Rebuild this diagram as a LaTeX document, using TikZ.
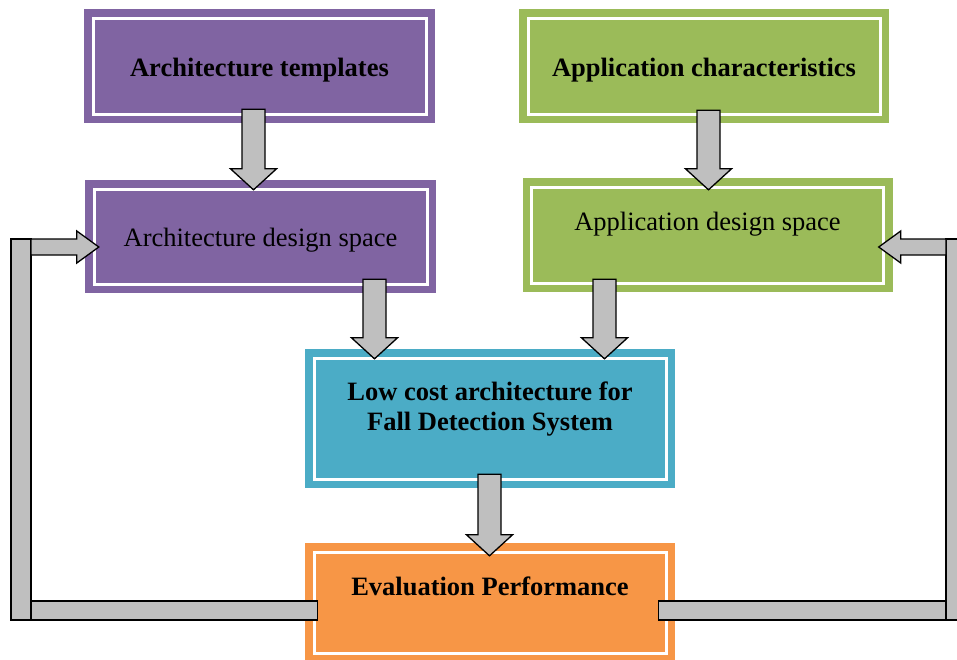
\documentclass[tikz,border=0pt]{standalone}
\usepackage{fontspec}
\setmainfont{Liberation Serif}
\usetikzlibrary{calc,positioning}

\definecolor{archpurple}{HTML}{8064A2}
\definecolor{appgreen}{HTML}{9BBB59}
\definecolor{costblue}{HTML}{4BACC6}
\definecolor{evalorange}{HTML}{F79646}
\definecolor{barfill}{HTML}{BFBFBF}

% block arrow pointing down: shaft top at #1, tip at #2
\newcommand{\downblock}[2]{%
  \draw[blockarrow] let \p1=#1, \p2=#2 in
    (\x2-11.5pt,\y1) -- (\x2+11.5pt,\y1) -- (\x2+11.5pt,\y2+21pt)
    -- (\x2+23pt,\y2+21pt) -- (\x2,\y2) -- (\x2-23pt,\y2+21pt)
    -- (\x2-11.5pt,\y2+21pt) -- cycle;}
% block arrow sideways: shaft start at #1, tip at #2, #3=1 right / -1 left
\newcommand{\sideblock}[3]{%
  \draw[blockarrow] let \p1=#1, \p2=#2, \n1={#3*22pt} in
    (\x1,\y2+8pt) -- (\x2-\n1,\y2+8pt) -- (\x2-\n1,\y2+16pt)
    -- (\x2,\y2) -- (\x2-\n1,\y2-16pt) -- (\x2-\n1,\y2-8pt)
    -- (\x1,\y2-8pt) -- cycle;}

\tikzset{
  box/.style={rectangle, fill=#1, inner sep=0pt, minimum width=351pt, minimum height=114pt,
    path picture={\draw[white, line width=3pt]
      ([xshift=9pt,yshift=-9pt]path picture bounding box.north west) rectangle
      ([xshift=-9pt,yshift=9pt]path picture bounding box.south east);}},
  wide/.style={minimum width=370pt},
  boxtext/.style={align=center, inner sep=0pt, font=\fontsize{26.5}{30}\selectfont},
  title/.style={boxtext, font=\fontsize{26.5}{30}\selectfont\bfseries},
  blockarrow/.style={draw=black, fill=barfill, line width=1.3pt, line join=miter}
}

\begin{document}
\begin{tikzpicture}[x=1pt, y=-1pt]
\useasboundingbox (0,0) rectangle (957,659);

% boxes
\node[box=archpurple] (tmpl) at (259.5,66) {};
\node[box=appgreen, wide] (chars) at (704,66) {};
\node[box=archpurple, minimum height=113pt] (archds) at (260.5,236.5) {};
\node[box=appgreen, wide] (appds) at (707.5,235) {};
\node[box=costblue, wide, minimum height=139pt] (lowcost) at (490,418.5) {};
\node[box=evalorange, wide, minimum height=119pt] (eval) at (490,602.5) {};

% texts
\node[title] (tmpl-t) at ([yshift=-4pt]tmpl) {Architecture templates};
\node[title] (chars-t) at ([yshift=-4pt]chars) {Application characteristics};
\node[boxtext] (archds-t) at ([yshift=-3.5pt]archds) {Architecture design space};
\node[boxtext] (appds-t) at ([yshift=11pt]appds) {Application design space};
\node[title] (lowcost-t) at ([yshift=9pt]lowcost) {Low cost architecture for\\Fall Detection System};
\node[title] (eval-t) at ([yshift=16pt]eval) {Evaluation Performance};

% downward arrows
\downblock{([shift={(-6,-14)}]tmpl.south)}{([shift={(-7,10)}]archds.north)}
\downblock{([shift={(4.5,-13)}]chars.south)}{([shift={(1,12)}]appds.north)}
\downblock{([shift={(114,-14)}]archds.south)}{([shift={(-115.5,10)}]lowcost.north)}
\downblock{([shift={(-103,-13)}]appds.south)}{([shift={(114.5,10)}]lowcost.north)}
\downblock{([shift={(-0.5,-14)}]lowcost.south)}{([shift={(-0.5,13)}]eval.north)}

% feedback, left side
\coordinate (lbar-bl) at (11,620);
\coordinate (lbar-tr) at (31,239);
\draw[blockarrow] (lbar-bl) rectangle (lbar-tr);
\draw[blockarrow] (lbar-bl -| lbar-tr) rectangle ($(eval.west |- lbar-bl)+(13,-19)$);
\sideblock{(lbar-tr)}{([shift={(14,10.5)}]archds.west)}{1}

% feedback, right side
\coordinate (rbar-bl) at (946,620);
\coordinate (rbar-tr) at (966,239);
\draw[blockarrow] (rbar-bl) rectangle (rbar-tr);
\draw[blockarrow] ($(eval.east |- rbar-bl)+(-17,-19)$) rectangle (rbar-bl);
\sideblock{(rbar-bl)}{([shift={(-14,12)}]appds.east)}{-1}
\end{tikzpicture}
\end{document}
